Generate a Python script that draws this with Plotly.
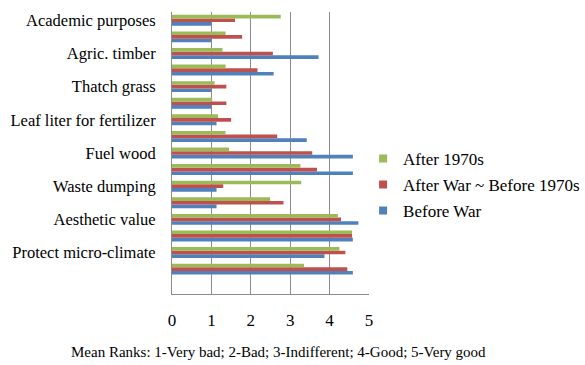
import plotly.graph_objects as go

# Categories from top to bottom; only every other row carries a label,
# the last row is an empty spacer category.
labels = [
    "Academic purposes", "", "Agric. timber", "", "Thatch grass", "",
    "Leaf liter for fertilizer", "", "Fuel wood", "", "Waste dumping", "",
    "Aesthetic value", "", "Protect micro-climate", "", "",
]

after_1970s = [2.76, 1.36, 1.28, 1.36, 1.08, 1.02, 1.17, 1.36, 1.45, 3.26,
               3.28, 2.49, 4.21, 4.57, 4.25, 3.35, None]
after_war = [1.60, 1.78, 2.56, 2.17, 1.38, 1.38, 1.50, 2.67, 3.56, 3.68,
             1.30, 2.83, 4.29, 4.57, 4.40, 4.45, None]
before_war = [1.00, 1.00, 3.72, 2.58, 1.00, 1.00, 1.13, 3.42, 4.59, 4.59,
              1.13, 1.13, 4.73, 4.59, 3.87, 4.59, None]

x_ticks = [0, 1, 2, 3, 4, 5]

n = len(labels)
# row positions counted from the bottom so the first category sits on top
ypos = [n - 1 - i for i in range(n)]

FONT = "Liberation Serif, Times New Roman, serif"

series = [
    ("Before War", before_war, "#4F81BD", 3),
    ("After War ~ Before 1970s", after_war, "#C0504D", 2),
    ("After 1970s", after_1970s, "#9BBB59", 1),
]

fig = go.Figure()
for name, vals, color, rank in series:
    fig.add_trace(go.Bar(
        x=vals, y=ypos, name=name, orientation="h",
        marker=dict(color=color, line=dict(width=0)),
        showlegend=False, legendgroup=name,
    ))
# small square swatches for the legend entries
for name, vals, color, rank in series:
    fig.add_trace(go.Scatter(
        x=[None], y=[None], mode="markers", name=name,
        marker=dict(symbol="square", size=8, color=color),
        legendgroup=name, legendrank=rank, showlegend=True,
    ))

label_pos = [p for p, t in zip(ypos, labels) if t]
label_txt = [t for t in labels if t]

fig.update_layout(
    width=585, height=365,
    margin=dict(l=172, r=216, t=12, b=71, autoexpand=False),
    paper_bgcolor="white", plot_bgcolor="white",
    barmode="group", bargap=0.34, bargroupgap=0,
    font=dict(family=FONT, size=17, color="black"),
    showlegend=True,
    legend=dict(
        x=0.97, y=0.387, xanchor="left", yanchor="middle",
        tracegroupgap=1, itemwidth=30,
        font=dict(family=FONT, size=17, color="black"),
        bgcolor="rgba(0,0,0,0)",
    ),
    xaxis=dict(
        range=[0, 5], tickvals=x_ticks, ticktext=[str(v) for v in x_ticks],
        showgrid=True, gridcolor="#8C8C8C", gridwidth=1,
        showline=True, linecolor="#8C8C8C", linewidth=1, mirror=False,
        zeroline=False, ticks="", ticklabelstandoff=11,
        tickfont=dict(family=FONT, size=17),
        fixedrange=True,
    ),
    yaxis=dict(
        range=[-0.5, n - 0.5], tickvals=label_pos, ticktext=label_txt,
        showgrid=False, showline=True, linecolor="#8C8C8C", linewidth=1,
        zeroline=False, ticks="", ticklabelstandoff=12,
        tickfont=dict(family=FONT, size=16.5),
        fixedrange=True,
    ),
    annotations=[dict(
        text="Mean Ranks: 1-Very bad; 2-Bad; 3-Indifferent; 4-Good; 5-Very good",
        xref="paper", yref="paper", x=0.54, y=-0.205, xanchor="center",
        yanchor="middle", showarrow=False,
        font=dict(family=FONT, size=15, color="black"),
    )],
)

fig.write_html("out.html")
